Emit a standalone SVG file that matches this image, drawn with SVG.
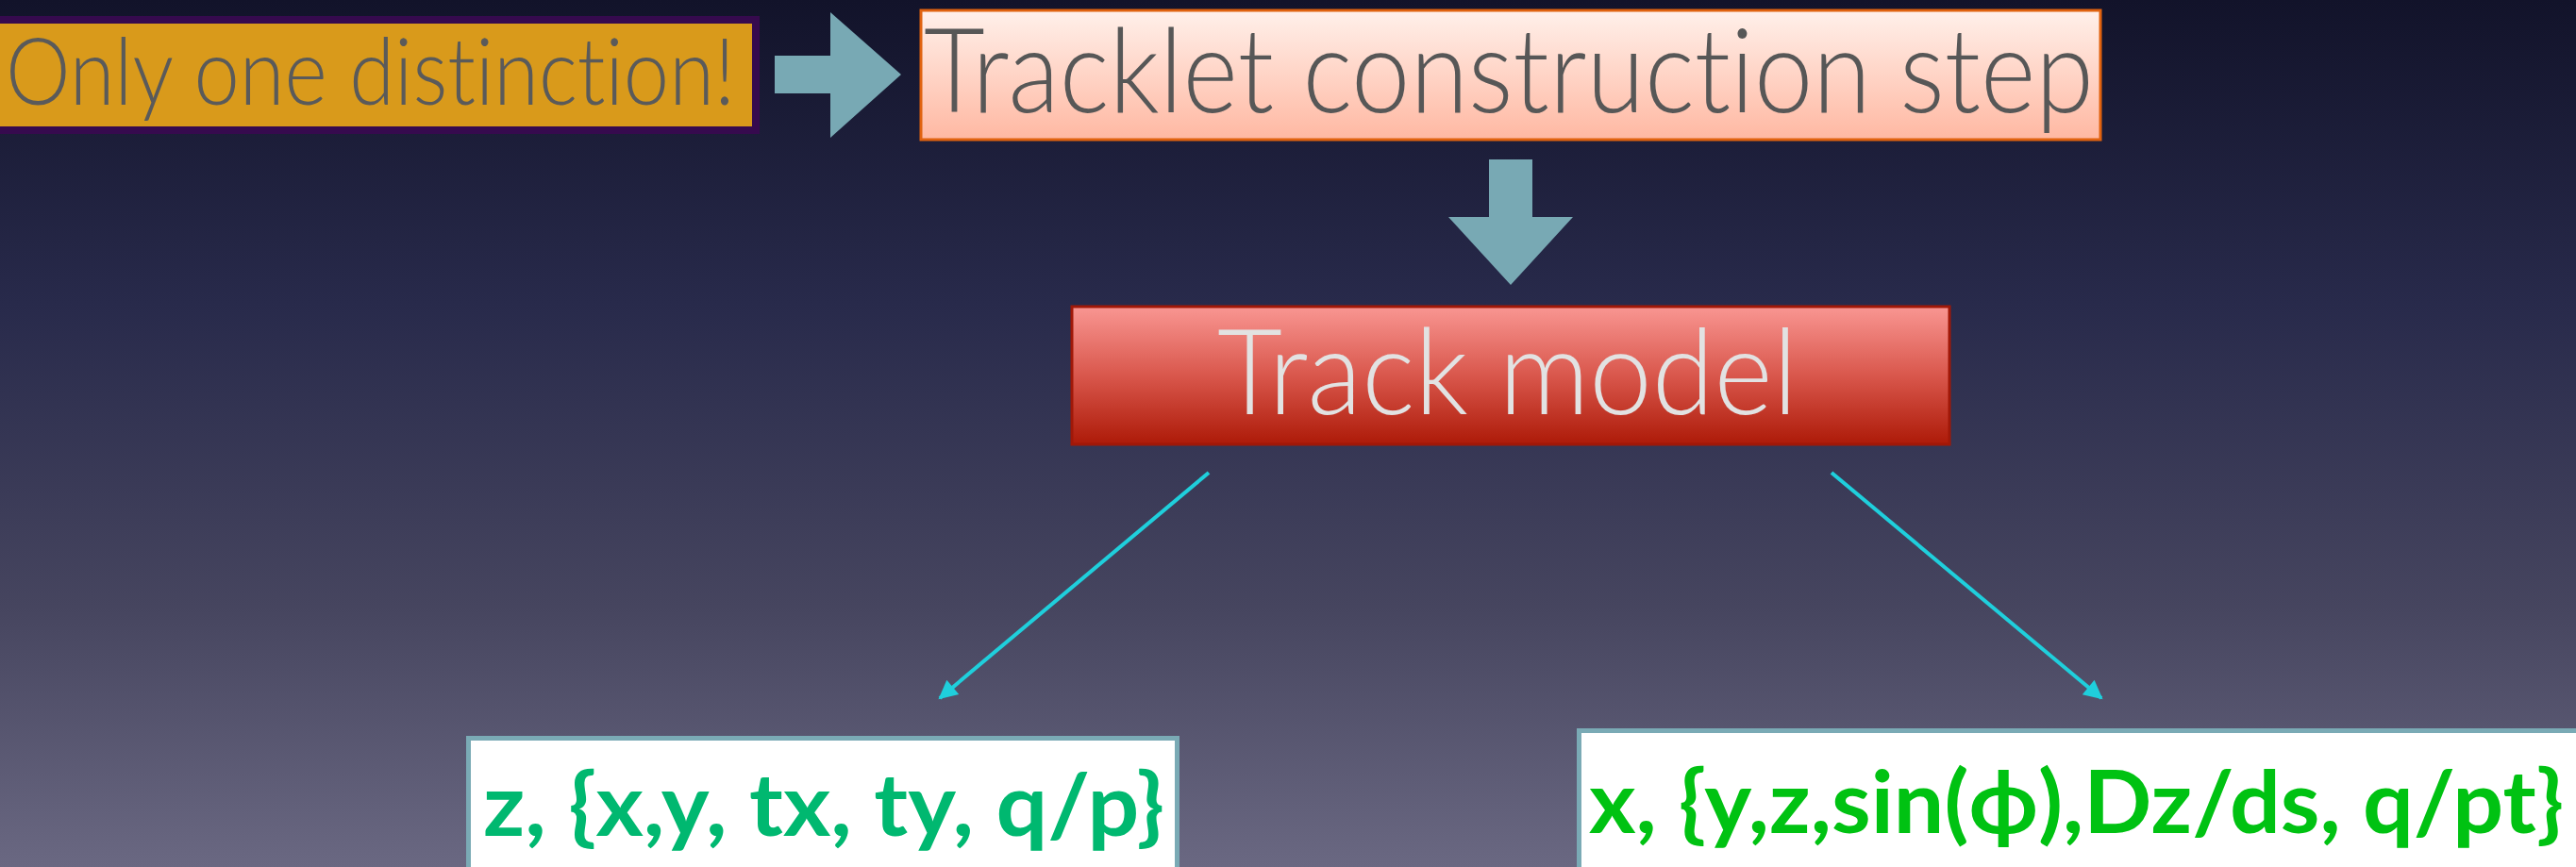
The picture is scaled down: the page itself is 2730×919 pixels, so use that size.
<svg xmlns="http://www.w3.org/2000/svg" width="2730" height="919" viewBox="0 0 2730 919">
  <defs>
    <linearGradient id="bg" x1="0" y1="0" x2="0" y2="1">
      <stop offset="0" stop-color="#12132a"/>
      <stop offset="0.35" stop-color="#282a4b"/>
      <stop offset="0.7" stop-color="#46455f"/>
      <stop offset="1" stop-color="#6a6882"/>
    </linearGradient>
    <linearGradient id="peach" x1="0" y1="0" x2="0" y2="1">
      <stop offset="0" stop-color="#fff0ea"/>
      <stop offset="1" stop-color="#ffb8a2"/>
    </linearGradient>
    <linearGradient id="red" x1="0" y1="0" x2="0" y2="1">
      <stop offset="0" stop-color="#f99692"/>
      <stop offset="0.5" stop-color="#d9574c"/>
      <stop offset="1" stop-color="#ad1a08"/>
    </linearGradient>
    <marker id="tip" viewBox="0 0 10 10" refX="9" refY="5" markerWidth="5.5" markerHeight="5" orient="auto" markerUnits="strokeWidth">
      <path d="M0,0 L10,5 L0,10 Z" fill="#1fcfdc"/>
    </marker>
    <style>
      text { font-variant-ligatures: none; font-feature-settings: "liga" 0, "clig" 0; }
      .light { font-family: Lato, "Open Sans", "Liberation Sans", sans-serif; font-weight: 300; }
      .bold { font-family: Lato, "Open Sans", "Liberation Sans", sans-serif; font-weight: 700; }
      .blockarrow { fill: #78a9b4; }
      .link { stroke: #1fcfdc; stroke-width: 4; fill: none; marker-end: url(#tip); }
      .outbox { fill: #ffffff; stroke: #7aaab5; stroke-width: 5; }
    </style>
  </defs>

  <rect x="0" y="0" width="2730" height="919" fill="url(#bg)"/>

  <g id="distinction">
    <rect x="-10" y="21" width="811" height="117" fill="#d99a1b" stroke="#360a4e" stroke-width="8"/>
    <text class="light" x="6" y="111" font-size="98" fill="#5a5a5a" textLength="773" lengthAdjust="spacingAndGlyphs">Only one distinction!</text>
  </g>

  <g id="tracklet">
    <rect x="976" y="11" width="1250" height="137" fill="url(#peach)" stroke="#e0620f" stroke-width="3"/>
    <text class="light" x="979" y="119" font-size="124" fill="#575757" textLength="1240" lengthAdjust="spacingAndGlyphs">Tracklet construction step</text>
  </g>

  <g id="trackmodel">
    <rect x="1136" y="325" width="930" height="146" fill="url(#red)" stroke="#a01808" stroke-width="3"/>
    <text class="light" x="1290" y="439" font-size="126" fill="#e2e2e2" textLength="615" lengthAdjust="spacingAndGlyphs">Track model</text>
  </g>

  <g id="zstate">
    <rect x="496.5" y="782.5" width="751" height="150" class="outbox"/>
    <text class="bold" x="512" y="886" font-size="92" fill="#00b870" textLength="722" lengthAdjust="spacingAndGlyphs">z, {x,y, tx, ty, q/p}</text>
  </g>

  <g id="xstate">
    <rect x="1673.5" y="774.5" width="1070" height="160" class="outbox"/>
    <text class="bold" x="1684" y="883" font-size="92" fill="#00c212" textLength="1033" lengthAdjust="spacingAndGlyphs">x, {y,z,sin(ϕ),Dz/ds, q/pt}</text>
  </g>

  <g id="connectors">
    <polygon class="blockarrow" points="821,59 880,59 880,13 955,79 880,146 880,99 821,99"/>
    <polygon class="blockarrow" points="1578,169 1624,169 1624,230 1667,230 1601,302 1535,230 1578,230"/>
    <line class="link" x1="1281" y1="501" x2="996" y2="740"/>
    <line class="link" x1="1941" y1="501" x2="2227" y2="740"/>
  </g>
</svg>
